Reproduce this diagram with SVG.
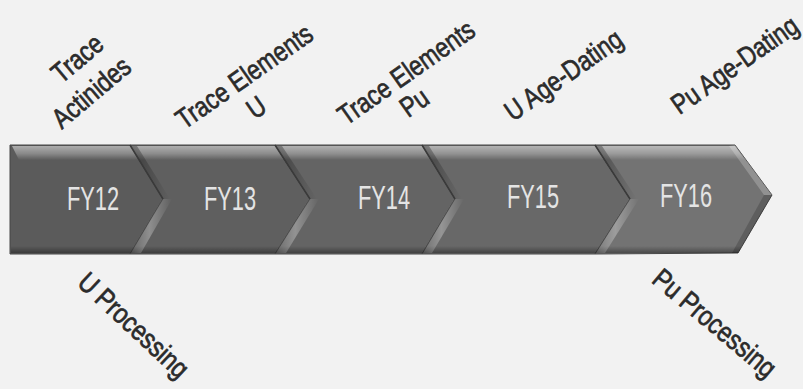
<svg xmlns="http://www.w3.org/2000/svg" width="803" height="389" viewBox="0 0 803 389">
  <defs>
    <linearGradient id="topBevel" x1="0" y1="0" x2="0" y2="1">
      <stop offset="0" stop-color="#ffffff" stop-opacity="0.5"/>
      <stop offset="0.55" stop-color="#ffffff" stop-opacity="0.28"/>
      <stop offset="1" stop-color="#ffffff" stop-opacity="0"/>
    </linearGradient>
    <linearGradient id="notchHi" x1="0" y1="0" x2="1" y2="0">
      <stop offset="0" stop-color="#ffffff" stop-opacity="0.05"/>
      <stop offset="0.45" stop-color="#ffffff" stop-opacity="0.3"/>
      <stop offset="1" stop-color="#ffffff" stop-opacity="0"/>
    </linearGradient>
    <linearGradient id="notchShade" x1="0" y1="0" x2="1" y2="0">
      <stop offset="0" stop-color="#000000" stop-opacity="0.35"/>
      <stop offset="1" stop-color="#000000" stop-opacity="0"/>
    </linearGradient>
    <linearGradient id="bottomShade" x1="0" y1="0" x2="0" y2="1">
      <stop offset="0" stop-color="#000000" stop-opacity="0"/>
      <stop offset="1" stop-color="#000000" stop-opacity="0.35"/>
    </linearGradient>
  </defs>
  <style>
    .seg { stroke: #474747; stroke-width: 1; }
    .fy { font-family: "Liberation Sans", Arial, sans-serif; font-size: 33px; fill: #e4e4e4; text-anchor: middle; }
    .lbl { font-family: "Liberation Sans", Arial, sans-serif; font-size: 28px; fill: #2b2b2b; stroke: #2b2b2b; stroke-width: 0.7px; text-anchor: middle; }
    .edge { stroke: #3a3a3a; stroke-width: 1.5; fill: none; }
  </style>
  <rect x="0" y="0" width="803" height="389" fill="#f2f2f2"/>

  <g id="fy12">
    <polygon class="seg" fill="#5b5b5b" points="10,145 130,145 163,199 130,254 10,254"/>
    <text class="fy" transform="translate(93,210) scale(0.66,1)">FY12</text>
  </g>
  <g id="fy13">
    <polygon class="seg" fill="#5f5f5f" points="130,145 275,145 310,199 275,254 130,254 163,199"/>
    <text class="fy" transform="translate(230,210) scale(0.66,1)">FY13</text>
  </g>
  <g id="fy14">
    <polygon class="seg" fill="#646464" points="275,145 422,145 455,199 422,254 275,254 310,199"/>
    <text class="fy" transform="translate(384,209) scale(0.66,1)">FY14</text>
  </g>
  <g id="fy15">
    <polygon class="seg" fill="#686868" points="422,145 595,145 630,199 595,254 422,254 455,199"/>
    <text class="fy" transform="translate(533,208) scale(0.66,1)">FY15</text>
  </g>
  <g id="fy16">
    <polygon class="seg" fill="#737373" points="595,145 735,145 772,195 738,253 595,254 630,199"/>
    <text class="fy" transform="translate(686,207) scale(0.66,1)">FY16</text>
  </g>

  <g id="bevels">
    <polygon fill="url(#topBevel)" points="12,146 735,146 745,160 19,160"/>
    <polygon fill="url(#bottomShade)" points="11,246 742,246 738,253 11,253"/>
    <polygon fill="url(#notchHi)" points="163,199 172,199 141,253 131,253"/>
    <polygon fill="url(#notchHi)" points="310,199 319,199 286,253 276,253"/>
    <polygon fill="url(#notchHi)" points="455,199 464,199 432,253 423,253"/>
    <polygon fill="url(#notchHi)" points="630,199 639,199 605,253 596,253"/>
    <polygon fill="url(#notchShade)" points="130,146 163,199 170,199 137,146"/>
    <polygon fill="url(#notchShade)" points="275,146 310,199 317,199 282,146"/>
    <polygon fill="url(#notchShade)" points="422,146 455,199 462,199 429,146"/>
    <polygon fill="url(#notchShade)" points="595,146 630,199 637,199 602,146"/>
    <polygon fill="#ffffff" fill-opacity="0.22" points="729,146 735,145 772,195 764,195"/>
    <polygon fill="#000000" fill-opacity="0.18" points="764,195 772,195 738,253 732,253"/>
  </g>

  <g id="connectors">
    <polyline class="edge" points="130,145 163,199"/>
    <polyline class="edge" points="275,145 310,199"/>
    <polyline class="edge" points="422,145 455,199"/>
    <polyline class="edge" points="595,145 630,199"/>
  </g>

  <g id="labels">
    <text class="lbl" transform="translate(77,58) rotate(-40) scale(0.82,1)" dy="0.36em">Trace</text>
    <text class="lbl" transform="translate(91,92) rotate(-40) scale(0.82,1)" dy="0.36em">Actinides</text>
    <text class="lbl" transform="translate(244,76) rotate(-35) scale(0.82,1)" dy="0.36em">Trace Elements</text>
    <text class="lbl" transform="translate(256,107) rotate(-35) scale(0.82,1)" dy="0.36em">U</text>
    <text class="lbl" transform="translate(406,72) rotate(-35) scale(0.82,1)" dy="0.36em">Trace Elements</text>
    <text class="lbl" transform="translate(414,102) rotate(-35) scale(0.82,1)" dy="0.36em">Pu</text>
    <text class="lbl" transform="translate(565,77) rotate(-35) scale(0.82,1)" dy="0.25em">U Age-Dating</text>
    <text class="lbl" transform="translate(736,67) rotate(-35) scale(0.82,1)" dy="0.25em">Pu Age-Dating</text>
    <text class="lbl" transform="translate(132,327) rotate(43) scale(0.84,1)" dy="0.25em">U Processing</text>
    <text class="lbl" transform="translate(713,325) rotate(40) scale(0.84,1)" dy="0.25em">Pu Processing</text>
  </g>
</svg>
